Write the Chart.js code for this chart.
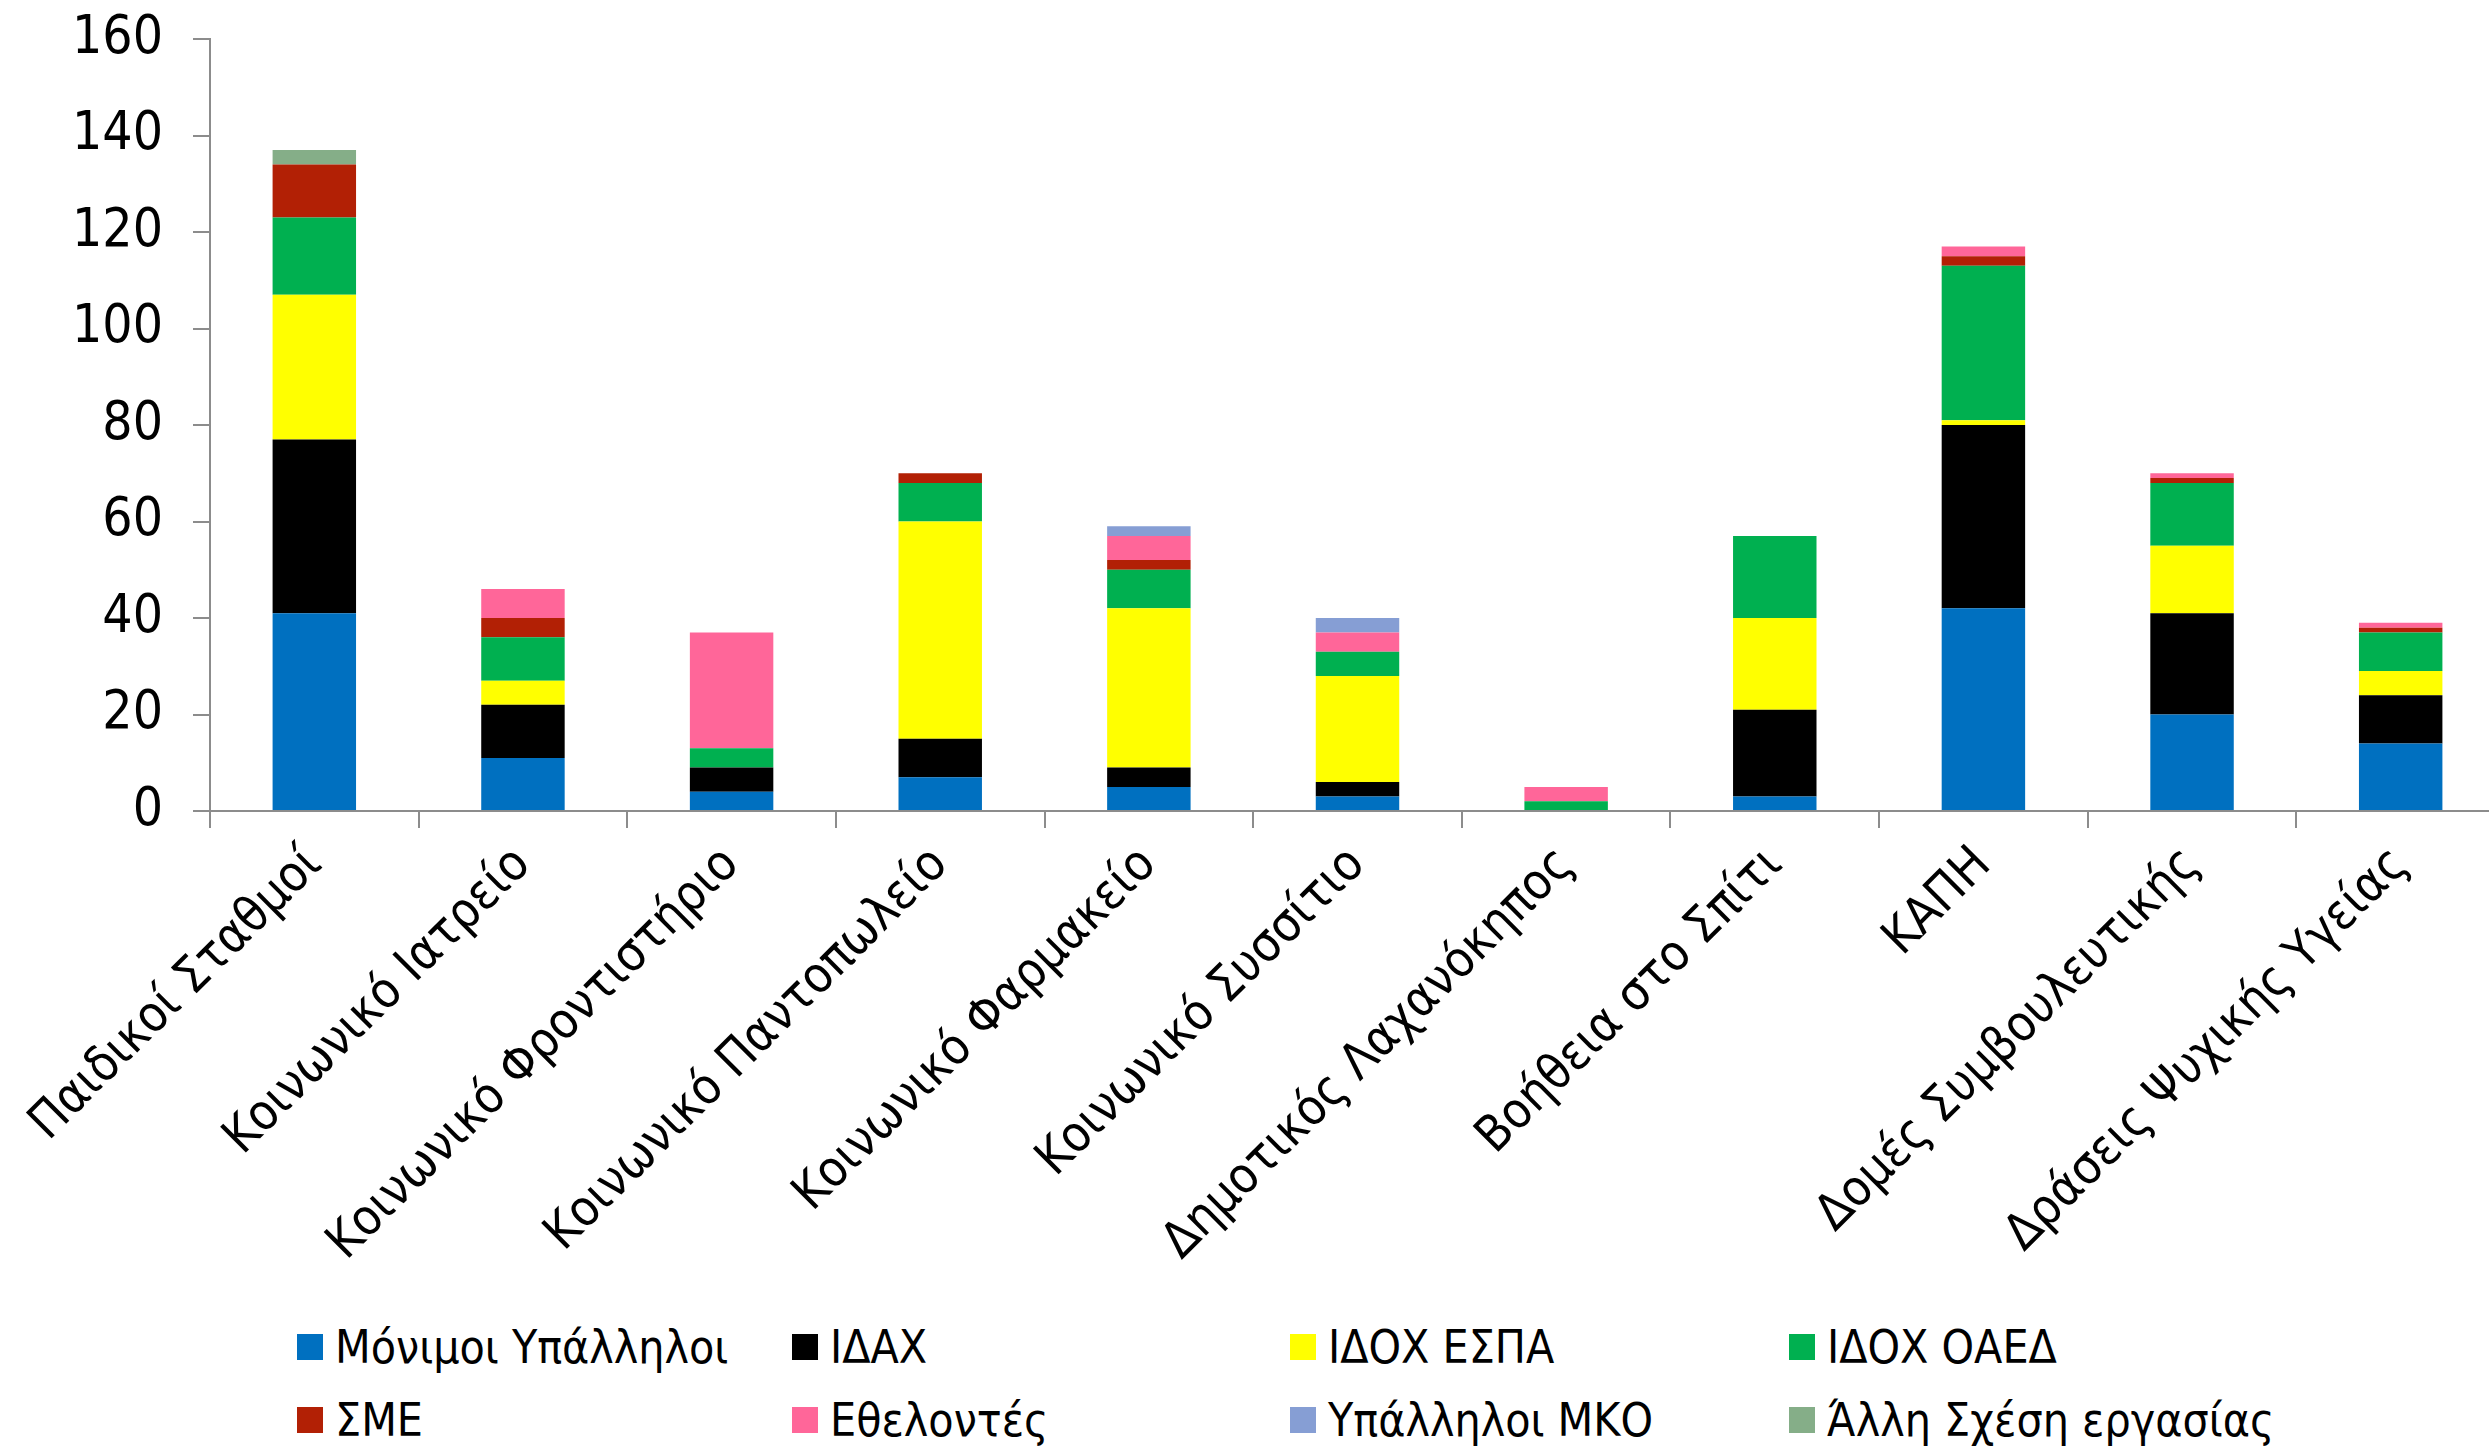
<!DOCTYPE html>
<html lang="el">
<head>
<meta charset="UTF-8">
<title>Προσωπικό ανά δομή</title>
<script src="https://cdn.jsdelivr.net/npm/chart.js@4.4.1/dist/chart.umd.min.js"></script>
<style>
    html, body { margin: 0; padding: 0; background: #fff; overflow: hidden; }
    body { width: 2489px; height: 1450px; position: relative; }
    #wrap { position: absolute; left: 0; top: 0; width: 2505px; height: 1295px; }
    .legend-item {
        position: absolute;
        display: flex;
        align-items: center;
        height: 50px;
        font-family: "DejaVu Sans Condensed", "DejaVu Sans", sans-serif;
        font-size: 46px;
        color: #000;
        white-space: nowrap;
    }
    .legend-item span.box { width: 26px; height: 26px; margin-right: 12px; display: inline-block; }
</style>
</head>
<body>
<div id="wrap"><canvas id="chartDomes" width="2505" height="1295"></canvas></div>
<div id="legenda"></div>

<script>
// Categories (structures)
const categorias = [
    'Παιδικοί Σταθμοί', 'Κοινωνικό Ιατρείο', 'Κοινωνικό Φροντιστήριο', 'Κοινωνικό Παντοπωλείο',
    'Κοινωνικό Φαρμακείο', 'Κοινωνικό Συσσίτιο', 'Δημοτικός Λαχανόκηπος', 'Βοήθεια στο Σπίτι',
    'ΚΑΠΗ', 'Δομές Συμβουλευτικής', 'Δράσεις Ψυχικής Υγείας'
];

// Series values, one per category
const monimoi     = [41, 11, 4, 7, 5, 3, 0, 3, 42, 20, 14];
const idax        = [36, 11, 5, 8, 4, 3, 0, 18, 38, 21, 10];
const idoxEspa    = [30, 5, 0, 45, 33, 22, 0, 19, 1, 14, 5];
const idoxOaed    = [16, 9, 4, 8, 8, 5, 2, 17, 32, 13, 8];
const sme         = [11, 4, 0, 2, 2, 0, 0, 0, 2, 1, 1];
const ethelontes  = [0, 6, 24, 0, 5, 4, 3, 0, 2, 1, 1];
const ypallMko    = [0, 0, 0, 0, 2, 3, 0, 0, 0, 0, 0];
const alliSxesi   = [3, 0, 0, 0, 0, 0, 0, 0, 0, 0, 0];

// Y axis ticks
const yTicks = [0, 20, 40, 60, 80, 100, 120, 140, 160];

const series = [
    { label: 'Μόνιμοι Υπάλληλοι', data: monimoi, cor: '#0070C0' },
    { label: 'ΙΔΑΧ', data: idax, cor: '#000000' },
    { label: 'ΙΔΟΧ ΕΣΠΑ', data: idoxEspa, cor: '#FFFF00' },
    { label: 'ΙΔΟΧ ΟΑΕΔ', data: idoxOaed, cor: '#00B050' },
    { label: 'ΣΜΕ', data: sme, cor: '#B22005' },
    { label: 'Εθελοντές', data: ethelontes, cor: '#FF6699' },
    { label: 'Υπάλληλοι ΜΚΟ', data: ypallMko, cor: '#869ED4' },
    { label: 'Άλλη Σχέση εργασίας', data: alliSxesi, cor: '#85AE88' }
];

const fonte = '"DejaVu Sans Condensed", "DejaVu Sans", sans-serif';
const corEixo = '#8C8C8C';

const ctx = document.getElementById('chartDomes').getContext('2d');
const chart = new Chart(ctx, {
    type: 'bar',
    data: {
        labels: categorias,
        datasets: series.map(s => ({
            label: s.label,
            data: s.data,
            backgroundColor: s.cor,
            borderWidth: 0,
            barPercentage: 0.4,
            categoryPercentage: 1
        }))
    },
    options: {
        responsive: false,
        animation: false,
        devicePixelRatio: 1,
        layout: { padding: { top: 39, right: 0, left: 0, bottom: 0 } },
        plugins: {
            legend: { display: false },
            tooltip: { enabled: false }
        },
        scales: {
            x: {
                stacked: true,
                offset: true,
                grid: {
                    offset: true,
                    drawOnChartArea: false,
                    drawTicks: true,
                    tickLength: 17,
                    color: corEixo,
                    lineWidth: 2
                },
                border: { color: corEixo, width: 2 },
                ticks: {
                    minRotation: 45,
                    maxRotation: 45,
                    autoSkip: false,
                    padding: 8,
                    color: '#000',
                    font: { family: fonte, size: 50 }
                },
                afterFit: s => { s.height = 484; }
            },
            y: {
                stacked: true,
                min: 0,
                max: 160,
                afterBuildTicks: axis => { axis.ticks = yTicks.map(v => ({ value: v })); },
                grid: {
                    drawOnChartArea: false,
                    drawTicks: true,
                    tickLength: 17,
                    color: corEixo,
                    lineWidth: 2
                },
                border: { color: corEixo, width: 2 },
                ticks: {
                    padding: 30,
                    color: '#000',
                    font: { family: fonte, size: 53 }
                },
                afterFit: s => {
                    s.width = 210;
                    s.paddingTop = 0;
                    s.paddingBottom = 0;
                }
            }
        }
    }
});

// Legend in a 4x2 grid below the chart
const colunasX = [297, 792, 1290, 1789];
const linhasY = [1322, 1395];
const legenda = document.getElementById('legenda');
legenda.innerHTML = series.map((s, i) => `
    <div class="legend-item" style="left:${colunasX[i % 4]}px; top:${linhasY[Math.floor(i / 4)]}px">
        <span class="box" style="background:${s.cor}"></span>${s.label}
    </div>
`).join('');
</script>
</body>
</html>
